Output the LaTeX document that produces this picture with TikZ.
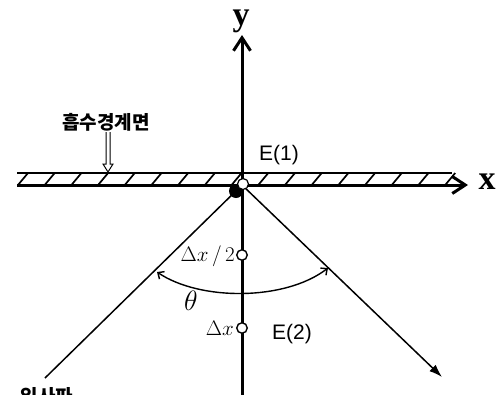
\documentclass[tikz,border=0pt]{standalone}
\usepackage{fix-cm}
\usepackage{fontspec}
\newfontfamily\kr{Noto Sans CJK KR}
\newfontfamily\sanslbl{Liberation Sans}
\newfontfamily\seriflbl{Liberation Serif}
\usetikzlibrary{arrows.meta}
\begin{document}
\begin{tikzpicture}[x=1pt,y=-1pt,
  axisline/.style={line width=3pt},
  rayline/.style={line width=1.5pt},
  axislbl/.style={font=\seriflbl\bfseries\fontsize{34}{36}\selectfont, inner sep=0pt},
  elbl/.style={font=\sanslbl\fontsize{21}{24}\selectfont, inner sep=0pt},
  mathlbl/.style={font=\fontsize{21}{25}\selectfont, inner sep=0pt},
  krlbl/.style={font=\kr\bfseries\fontsize{19}{22}\selectfont, inner sep=0pt},
  hollowpt/.style={circle, draw, line width=1.4pt, fill=white, inner sep=0pt, minimum size=10.5pt}
]
\useasboundingbox (0,0) rectangle (498,394);
% coordinates
\coordinate (O) at (242,185);
\coordinate (ybot) at (242,400);
\coordinate (ytop) at (242,35);
\coordinate (xleft) at (17,185);
\coordinate (xright) at (468,185);
\coordinate (inc) at (45,378);
\coordinate (refl) at (442,377);
\coordinate (arcL) at (157,272);
\coordinate (arcR) at (328,268);
% hatched strip
\draw[line width=1.3pt] (17,173) -- (452,173);
\foreach \k in {0,...,16} {
  \draw[line width=1.7pt] ({18+26.7*\k},185) -- ({28+26.7*\k},173);
}
% axes
\draw[axisline, -{Straight Barb[length=13pt,width=17pt,line width=3pt]}] (xleft) -- (xright);
\draw[axisline, -{Straight Barb[length=13pt,width=17pt,line width=3pt]}] (ybot) -- (ytop);
% rays
\draw[rayline] (inc) -- (O);
\draw[rayline, -{Latex[length=13pt,width=9pt]}] (O) -- (refl);
% angle arc
\draw[line width=1.4pt, {Straight Barb[length=5pt,width=9pt]}-{Straight Barb[length=5pt,width=9pt]}]
  (arcL) .. controls (200,301) and (285,301) .. (arcR);
% origin marker
\fill (236,191) circle (7);
\filldraw[fill=white, line width=1.2pt] (243,184) circle (5.5);
% points on y axis
\node[hollowpt] (p1) at (242,255) {};
\node[hollowpt] (p2) at (242,328) {};
% labels
\node[axislbl] (ylbl) at (241,21) {y};
\node[axislbl] (xlbl) at (487,182) {x};
\node[elbl] (e1) at (279,155) {E(1)};
\node[elbl] (e2) at (292,334) {E(2)};
\node[mathlbl, anchor=east] (l1) at (235,256) {$\Delta x\,/\,2$};
\node[mathlbl, anchor=east] (l2) at (234,328) {$\Delta x$};
\node[font=\fontsize{28}{32}\selectfont, inner sep=0pt] (th) at (191,301) {$\theta$};
\node[krlbl] (kr1) at (106,122) {흡수경계면};
\node[krlbl] (kr2) at (47,396) {입사파};
% hollow arrow
\draw[line width=1pt, fill=white] (106,132) -- (106,164) -- (103,164) -- (108,172) -- (113,164) -- (110,164) -- (110,132);
\end{tikzpicture}
\end{document}
